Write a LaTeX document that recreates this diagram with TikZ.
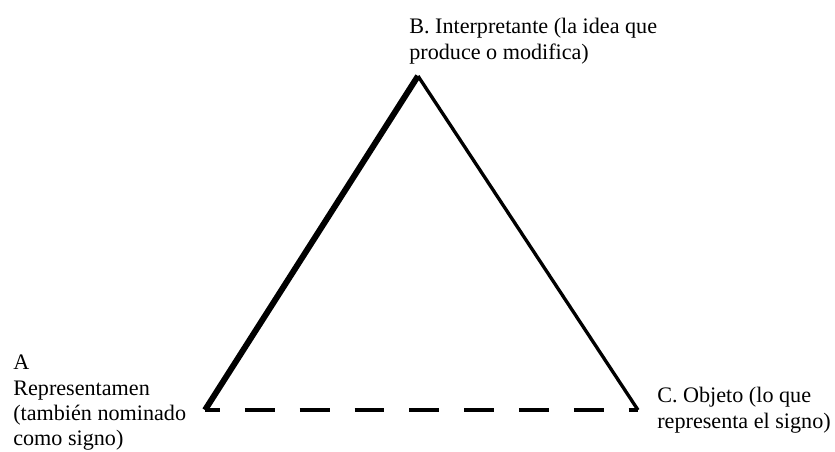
\documentclass[tikz,border=0pt]{standalone}
\usepackage{fontspec}
\setmainfont{Liberation Serif}
\usetikzlibrary{positioning}

\begin{document}
\begin{tikzpicture}[x=0.02cm,y=-0.02cm,
    lbl/.style={align=left,inner sep=0pt,anchor=north west,font=\fontsize{12.6}{14.4}\selectfont}]
  \useasboundingbox (0,0) rectangle (835,452);
  \coordinate (rep) at (205,410);
  \coordinate (int) at (418,76);
  \coordinate (obj) at (638,410);
  \draw[line width=3.4pt] (rep) -- (int);
  \draw[line width=1.9pt] (int) -- (obj);
  \draw[line width=2.2pt,dash pattern=on 17pt off 14.2pt,dash phase=8.5pt] (rep) -- (obj);
  \node[lbl] (labB) at (409,18) {B. Interpretante (la idea que\\produce o modifica)};
  \node[lbl] (labA) at (13,355) {A\\Representamen\\(también nominado\\como signo)};
  \node[lbl] (labC) at (657,387) {C. Objeto (lo que\\representa el signo)};
\end{tikzpicture}
\end{document}
